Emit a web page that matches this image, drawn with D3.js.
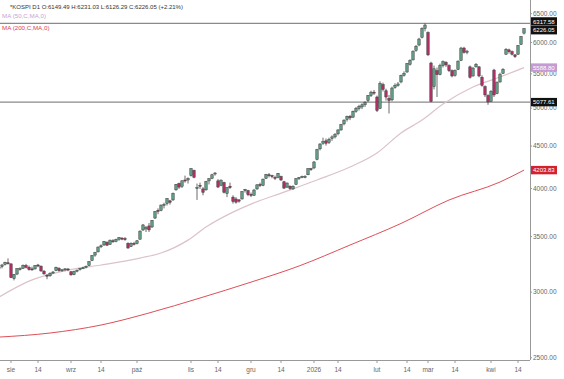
<!DOCTYPE html>
<html><head><meta charset="utf-8">
<script src="https://cdn.jsdelivr.net/npm/d3@7"></script>
<style>
html,body{margin:0;padding:0;background:#fff;}
svg{display:block;font-family:"Liberation Sans",Arial,sans-serif;}
</style></head>
<body>
<svg id="chart" width="564" height="379"></svg>
<script>
// ---------- DATA ----------
const holidays = ["2025-08-15","2025-10-03","2025-10-06","2025-10-07","2025-10-08","2025-10-09",
  "2025-12-25","2025-12-31","2026-01-01","2026-02-16","2026-02-17","2026-02-18","2026-03-02"];
const firstDay = "2025-07-28", lastDay = "2026-04-16";

// [open, high, low, close] per trading day
const candles = [
[3200,3225,3190,3209],[3215,3240,3200,3230],[3235,3260,3225,3254],[3250,3290,3235,3245],
[3240,3245,3115,3119],[3110,3150,3095,3147],[3150,3200,3140,3198],[3195,3210,3180,3198],[3200,3235,3195,3227],
[3225,3240,3200,3210],[3210,3225,3180,3189],[3195,3215,3180,3189],[3195,3230,3190,3224],[3230,3240,3210,3225],
[3220,3225,3170,3177],[3175,3185,3145,3151],[3140,3150,3105,3131],[3135,3165,3125,3157],[3160,3175,3150,3168],
[3180,3215,3175,3210],[3200,3210,3170,3180],[3180,3195,3170,3187],[3190,3200,3175,3196],[3195,3200,3175,3186],
[3170,3175,3135,3143],[3145,3180,3140,3173],[3175,3190,3165,3184],[3190,3205,3180,3200],[3205,3215,3195,3205],
[3210,3225,3200,3219],[3225,3265,3220,3260],[3270,3320,3265,3315],[3320,3350,3305,3344],[3350,3400,3345,3395],
[3400,3420,3385,3407],[3415,3450,3405,3449],[3440,3450,3405,3413],[3420,3465,3415,3461],[3455,3470,3435,3445],
[3450,3475,3440,3468],[3470,3490,3455,3486],[3480,3490,3460,3472],[3475,3490,3455,3471],[3430,3440,3380,3386],
[3400,3440,3395,3431],[3430,3445,3410,3424],[3430,3460,3420,3455],[3470,3555,3465,3549],[3560,3620,3550,3610],
[3570,3600,3540,3584],[3600,3630,3540,3561],[3590,3660,3580,3657],[3680,3750,3670,3748],[3760,3780,3720,3748],
[3760,3820,3750,3815],[3820,3840,3780,3823],[3830,3890,3810,3883],[3860,3870,3820,3845],[3870,3950,3860,3941],
[3980,4045,3970,4042],[4050,4060,3990,4010],[4020,4085,4000,4081],[4090,4140,4060,4086],[4090,4120,4050,4107],
[4140,4226,4130,4221],[4200,4210,4110,4121],[4000,4050,3870,4004],[4030,4060,3990,4026],[3990,4010,3920,3953],
[3980,4080,3970,4073],[4080,4110,4040,4106],[4110,4160,4100,4150],[4160,4180,4140,4170],[4080,4100,4000,4011],
[4030,4095,4020,4089],[4060,4070,3940,3953],[3940,4010,3900,4004],[4020,4060,3990,4004],[3900,3920,3830,3853],
[3880,3900,3830,3846],[3870,3880,3840,3857],[3880,3965,3875,3960],[3970,3990,3950,3986],[3970,3980,3910,3926],
[3930,3950,3900,3920],[3920,3990,3915,3977],[3990,4040,3980,4036],[4040,4060,4010,4028],[4030,4105,4020,4100],
[4110,4160,4100,4154],[4150,4170,4120,4143],[4140,4150,4110,4135],[4120,4140,4090,4110],[4120,4170,4110,4167],
[4130,4140,4080,4090],[4070,4080,3990,3999],[4010,4060,4000,4056],[4020,4030,3980,3994],[3990,4030,3980,4020],
[4040,4110,4035,4105],[4110,4125,4090,4117],[4120,4140,4110,4129],[4130,4145,4110,4130],[4150,4225,4145,4220],
[4220,4230,4195,4214],
[4230,4310,4215,4300],[4330,4460,4320,4450],[4460,4530,4440,4520],[4530,4600,4510,4550],[4560,4590,4500,4530],
[4540,4600,4520,4580],[4590,4630,4560,4610],[4610,4660,4590,4640],[4650,4710,4630,4700],[4700,4780,4690,4770],
[4780,4840,4760,4830],[4840,4890,4810,4880],[4880,4900,4830,4860],[4870,4960,4860,4950],[4950,5010,4930,4990],
[4990,5040,4960,5020],[5010,5060,4980,5040],[5040,5090,5010,5070],[5100,5180,5080,5170],[5170,5240,5150,5220],
[5220,5250,5180,5210],[5150,5170,4940,4960],[4990,5380,4980,5350],[5330,5360,5230,5260],[5240,5270,5100,5150],
[5130,5180,4920,5100],[5110,5300,5090,5280],[5290,5350,5270,5320],[5320,5370,5300,5340],[5370,5480,5350,5470],
[5470,5530,5450,5500],[5520,5660,5510,5650],[5640,5720,5620,5700],[5710,5860,5700,5850],[5860,5950,5840,5930],
[5950,6070,5930,6050],[6080,6250,6060,6230],[6230,6317.58,6180,6290],[6160,6180,5770,5790],[5660,5680,5077.61,5090],
[5300,5620,5260,5570],[5540,5590,5150,5480],[5480,5650,5470,5620],[5620,5700,5590,5680],[5670,5690,5600,5630],
[5620,5640,5520,5540],[5540,5560,5440,5460],[5470,5560,5450,5540],[5560,5700,5550,5690],[5700,5920,5690,5900],
[5900,5920,5810,5830],[5830,5870,5800,5850],[5600,5620,5420,5440],[5460,5600,5450,5580],[5600,5660,5590,5640],
[5600,5610,5440,5460],[5440,5470,5300,5320],[5300,5320,5150,5180],[5170,5190,5040,5080],[5090,5250,5080,5230],
[5550,5570,5150,5180],[5200,5380,5190,5360],[5370,5510,5360,5480],[5500,5580,5490,5560],[5800,5900,5790,5880],
[5870,5890,5810,5840],[5840,5860,5780,5800],[5790,5800,5740,5760],[5800,5950,5790,5940],[5960,6100,5950,6091],
[6149.49,6231.03,6126.29,6226.05]
];

const ma50 = [["2025-07-28",2955],["2025-08-11",3089],["2025-08-29",3185],["2025-09-15",3230],["2025-10-02",3293],
  ["2025-10-20",3339],["2025-10-31",3461],["2025-11-10",3589],["2025-11-21",3741],["2025-12-01",3825],
  ["2025-12-16",3955],["2026-01-05",4090],["2026-01-20",4240],["2026-02-02",4408],["2026-02-12",4660],
  ["2026-02-26",4831],["2026-03-10",5051],["2026-03-24",5295],["2026-04-06",5444],["2026-04-16",5588.80]];
const ma200 = [["2025-07-28",2644],["2025-08-21",2674],["2025-09-15",2734],["2025-10-14",2827],["2025-11-06",2947],
  ["2025-12-01",3080],["2025-12-23",3221],["2026-01-20",3414],["2026-02-12",3625],["2026-03-12",3869],
  ["2026-04-06",4067],["2026-04-16",4203.83]];

const hLines = [6317.58, 5077.61];
const yTicks = [2500,3000,3500,4000,4500,5000,5500,6000,6500];
const xTickDates  = ["2025-08-01","2025-08-14","2025-09-01","2025-09-14","2025-10-01","2025-11-01","2025-11-14",
  "2025-12-01","2025-12-14","2026-01-01","2026-01-14","2026-02-01","2026-02-14","2026-03-01","2026-03-14","2026-04-01","2026-04-14"];
const xTickLabels = ["sie","14","wrz","14","paź","lis","14","gru","14","2026","14","lut","14","mar","14","kwi","14"];
const headerText = "*KOSPI D1 O:6149.49 H:6231.03 L:6126.29 C:6226.05 (+2.21%)";
const legend = ["MA (50,C,MA,0)","MA (200,C,MA,0)"];

// ---------- BUILD ----------
const fmt = d3.timeFormat("%Y-%m-%d"), parse = d3.timeParse("%Y-%m-%d");
const hol = new Set(holidays);
const dates = d3.timeDay.range(parse(firstDay), d3.timeDay.offset(parse(lastDay),1))
  .filter(d => d.getDay()!==0 && d.getDay()!==6 && !hol.has(fmt(d))).map(fmt);
const n = Math.min(dates.length, candles.length);
const bars = d3.range(n).map(i => ({date: dates[i], o:candles[i][0], h:candles[i][1], l:candles[i][2], c:candles[i][3]}));

const plotR = 530, plotB = 360;
const svg = d3.select("#chart");
const x = d3.scalePoint().domain(bars.map(b=>b.date)).range([-1, 524]);
const y = d3.scaleLog().domain([2481, 6742.5]).range([plotB, 0]);
const firstOnOrAfter = s => dates.find(d => d >= s);

svg.append("defs").append("clipPath").attr("id","pc").append("rect")
  .attr("x",0).attr("y",0).attr("width",plotR).attr("height",plotB);
const pg = svg.append("g").attr("clip-path","url(#pc)");

// horizontal level lines
pg.selectAll("line.lvl").data(hLines).join("line").attr("class","lvl")
  .attr("x1",0).attr("x2",plotR).attr("y1",d=>y(d)).attr("y2",d=>y(d))
  .attr("stroke","#8a8a8a").attr("stroke-width",1.3);

// MA lines
const line = d3.line().x(d=>x(d[0])).y(d=>y(d[1])).curve(d3.curveMonotoneX);
pg.append("path").datum(ma200).attr("d",line).attr("fill","none").attr("stroke","#dc5058").attr("stroke-width",1);
pg.append("path").datum(ma50).attr("d",line).attr("fill","none").attr("stroke","#dcc3c8").attr("stroke-width",1.2);

// candles
const cg = pg.selectAll("g.c").data(bars).join("g").attr("class","c");
cg.append("line").attr("x1",d=>x(d.date)).attr("x2",d=>x(d.date))
  .attr("y1",d=>y(d.h)).attr("y2",d=>y(d.l)).attr("stroke","#444").attr("stroke-width",0.8);
cg.append("rect").attr("x",d=>x(d.date)-1.2).attr("width",2.4)
  .attr("y",d=>y(Math.max(d.o,d.c))).attr("height",d=>Math.max(1,Math.abs(y(d.o)-y(d.c))))
  .attr("fill",d=>d.c>=d.o?"#62a088":"#b52f68").attr("stroke","#3a3a3a").attr("stroke-width",0.5);

// right axis
svg.append("line").attr("x1",plotR+0.5).attr("x2",plotR+0.5).attr("y1",0).attr("y2",plotB).attr("stroke","#999");
const ya = svg.append("g").attr("transform",`translate(${plotR},0)`)
  .call(d3.axisRight(y).tickValues(yTicks).tickFormat(d3.format(".2f")).tickSize(2).tickPadding(1));
ya.select(".domain").remove();
ya.selectAll("line").attr("stroke","#999");
ya.selectAll("text").attr("font-size",6.5).attr("fill","#666").attr("font-family","Liberation Sans, Arial");

// bottom axis
svg.append("line").attr("x1",0).attr("x2",plotR).attr("y1",plotB+0.5).attr("y2",plotB+0.5).attr("stroke","#999");
const xt = xTickDates.map((d,i)=>({d:firstOnOrAfter(d), t:xTickLabels[i]}));
const xa = svg.append("g");
xa.selectAll("line").data(xt).join("line").attr("x1",d=>x(d.d)).attr("x2",d=>x(d.d))
  .attr("y1",plotB).attr("y2",plotB+3).attr("stroke","#999");
xa.selectAll("text").data(xt).join("text").attr("x",d=>x(d.d)).attr("y",plotB+12)
  .attr("text-anchor","middle").attr("font-size",6.5).attr("fill","#666").text(d=>d.t);

// value labels on right axis
const tags = [
  {v:5077.61, bg:"#111", fg:"#fff", dy:0},
  {v:4203.83, bg:"#d3212f", fg:"#fff", dy:0},
  {v:5588.80, bg:"#c59bd4", fg:"#fff", dy:0},
  {v:6317.58, bg:"#111", fg:"#fff", dy:-2},
  {v:6226.05, bg:"#111", fg:"#fff", dy:1.5}
];
const tg = svg.selectAll("g.tag").data(tags).join("g").attr("class","tag")
  .attr("transform",d=>`translate(${plotR+1},${y(d.v)+d.dy})`);
tg.append("rect").attr("x",0).attr("y",-4.2).attr("width",26).attr("height",8.4).attr("fill",d=>d.bg);
tg.append("text").attr("x",2).attr("y",2.2).attr("font-size",6).attr("fill",d=>d.fg).text(d=>d.v.toFixed(2));

// header and legend
svg.append("text").attr("x",10).attr("y",9).attr("font-size",6).attr("fill","#333").text(headerText);
svg.append("text").attr("x",2).attr("y",18).attr("font-size",6.2).attr("fill","#c9a3d0").text(legend[0]);
svg.append("text").attr("x",2).attr("y",30).attr("font-size",6.2).attr("fill","#d9454f").text(legend[1]);
</script>
</body></html>
